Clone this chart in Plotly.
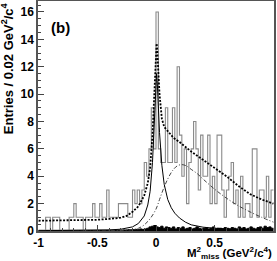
import plotly.graph_objects as go

# ---- histogram (bin width 0.02 GeV^2/c^4, 100 bins from -1 to 1) ----
BIN_LO = -1.0
BIN_W = 0.02
entries = [
    0, 0, 0, 1, 1, 0, 1, 1, 1, 0,
    0, 0, 0, 1, 1, 2, 1, 1, 1, 0,
    1, 1, 1, 2, 1, 1, 2, 1, 1, 3,
    1, 1, 1, 1, 2, 2, 2, 2, 1, 1,
    3, 2, 3, 2, 3, 5, 4, 6, 9, 6,
    16, 6, 5, 5, 9, 5, 5, 9, 5, 12,
    7, 4, 6, 2, 5, 6, 8, 6, 3, 7,
    4, 4, 7, 2, 4, 2, 7, 7, 3, 1,
    3, 4, 5, 2, 3, 1, 4, 1, 2, 2,
    1, 6, 6, 1, 3, 3, 1, 4, 1, 3,
]
# small black component at the bottom
bkg_small = [
    0.05, 0.05, 0.05, 0.05, 0.05, 0.05, 0.05, 0.05, 0.05, 0.05,
    0.05, 0.05, 0.05, 0.05, 0.05, 0.05, 0.05, 0.05, 0.05, 0.05,
    0.05, 0.05, 0.05, 0.05, 0.05, 0.05, 0.05, 0.05, 0.05, 0.05,
    0.05, 0.05, 0.05, 0.05, 0.05, 0.05, 0.08, 0.08, 0.1, 0.1,
    0.1, 0.12, 0.1, 0.15, 0.12, 0.15, 0.2, 0.3, 0.35, 0.4,
    0.3, 0.25, 0.35, 0.2, 0.3, 0.25, 0.2, 0.3, 0.15, 0.25,
    0.2, 0.3, 0.15, 0.2, 0.25, 0.15, 0.2, 0.3, 0.2, 0.15,
    0.2, 0.25, 0.15, 0.2, 0.3, 0.15, 0.2, 0.2, 0.15, 0.25,
    0.2, 0.15, 0.25, 0.2, 0.15, 0.3, 0.2, 0.25, 0.15, 0.2,
    0.3, 0.2, 0.15, 0.25, 0.3, 0.2, 0.35, 0.25, 0.3, 0.2,
]

# ---- fitted curves ----
sig_x = [-1, -0.6, -0.4, -0.3, -0.2, -0.15, -0.1, -0.07, -0.05, -0.03, -0.02, -0.01,
         0, 0.005, 0.01, 0.02, 0.03, 0.05, 0.07, 0.1, 0.13, 0.16, 0.2, 0.25, 0.3,
         0.4, 0.5, 0.7, 1.0]
sig_y = [0.02, 0.05, 0.08, 0.13, 0.3, 0.55, 1.1, 1.9, 2.9, 5.0, 7.0, 9.5,
         11.3, 11.5, 11.0, 9.0, 7.2, 4.8, 3.4, 2.3, 1.7, 1.3, 0.95, 0.65, 0.45,
         0.28, 0.2, 0.12, 0.08]

bump_x = [-1, -0.5, -0.3, -0.2, -0.15, -0.1, -0.05, 0, 0.03, 0.06, 0.1, 0.14, 0.18,
          0.22, 0.26, 0.3, 0.35, 0.4, 0.5, 0.6, 0.7, 0.8, 0.9, 1.0]
bump_y = [0.02, 0.03, 0.05, 0.1, 0.2, 0.45, 0.9, 1.6, 2.3, 3.0, 3.8, 4.4, 4.75,
          4.85, 4.75, 4.5, 4.2, 3.8, 3.05, 2.4, 1.85, 1.4, 1.0, 0.65]

tot_x = [-1, -0.8, -0.6, -0.5, -0.4, -0.3, -0.25, -0.2, -0.15, -0.1, -0.07, -0.05,
         -0.03, -0.02, -0.01, 0, 0.005, 0.01, 0.02, 0.03, 0.05, 0.07, 0.1, 0.15,
         0.2, 0.3, 0.4, 0.5, 0.6, 0.7, 0.8, 0.9, 1.0]
tot_y = [0.75, 0.77, 0.8, 0.82, 0.88, 0.97, 1.1, 1.4, 1.8, 2.6, 3.5, 4.6,
         7.0, 9.0, 11.5, 13.5, 13.7, 13.3, 11.5, 10.0, 8.2, 7.6, 7.3, 6.8,
         6.5, 5.8, 5.2, 4.6, 4.0, 3.3, 2.7, 2.3, 2.0]

x_ticks = [-1, -0.5, 0, 0.5, 1]
x_tick_labels = ["-1", "-0.5", "0", "0.5", "1"]
y_ticks = [0, 2, 4, 6, 8, 10, 12, 14, 16]

# step x positions: left bin edges plus final right edge
edges = [BIN_LO + i * BIN_W for i in range(len(entries) + 1)]
hist_y = entries + [entries[-1]]
small_y = bkg_small + [bkg_small[-1]]

FONT = "Liberation Sans"
fig = go.Figure()
fig.add_trace(go.Scatter(x=edges, y=small_y, mode="lines", line_shape="hv",
                         line=dict(color="black", width=1), fill="tozeroy",
                         fillcolor="black", hoverinfo="skip"))
fig.add_trace(go.Scatter(x=edges, y=hist_y, mode="lines", line_shape="hv",
                         line=dict(color="#8a8a8a", width=1.1), hoverinfo="skip"))
fig.add_trace(go.Scatter(x=bump_x, y=bump_y, mode="lines", line_shape="spline",
                         line=dict(color="#444", width=1, dash="4px,2px,1px,2px")))
fig.add_trace(go.Scatter(x=sig_x, y=sig_y, mode="lines",
                         line=dict(color="black", width=1)))
fig.add_trace(go.Scatter(x=tot_x, y=tot_y, mode="lines",
                         line=dict(color="black", width=1.8, dash="2px,1.5px")))

fig.update_layout(
    width=277, height=261,
    margin=dict(l=38, r=3, t=1, b=30),
    plot_bgcolor="white", paper_bgcolor="white",
    showlegend=False,
    font=dict(family=FONT, color="black"),
)
fig.update_xaxes(range=[-1.005, 1.005], tickvals=x_ticks, ticktext=x_tick_labels,
                 ticks="inside", ticklen=6, tickcolor="#444", showgrid=False,
                 zeroline=False, showline=True, mirror=True, linecolor="#555",
                 linewidth=1.5, automargin=False,
                 tickfont=dict(family=FONT, size=12, weight="bold"),
                 minor=dict(dtick=0.1, ticks="inside", ticklen=3, tickcolor="#444"))
fig.update_yaxes(range=[0, 16.8], tickvals=y_ticks,
                 ticks="inside", ticklen=6, tickcolor="#444", showgrid=False,
                 zeroline=False, showline=True, mirror=True, linecolor="#555",
                 linewidth=1.5, automargin=False,
                 tickfont=dict(family=FONT, size=12, weight="bold"),
                 minor=dict(dtick=0.5, ticks="inside", ticklen=3, tickcolor="#444"))

fig.add_annotation(text="<b>Entries / 0.02 GeV<sup>2</sup>/c<sup>4</sup></b>",
                   xref="paper", yref="paper", x=-0.13, y=1.005, xanchor="center",
                   yanchor="top", textangle=-90, showarrow=False,
                   font=dict(family=FONT, size=13, color="black"))
fig.add_annotation(text="<b>M<sup>2</sup><sub>miss</sub> (GeV<sup>2</sup>/c<sup>4</sup>)</b>",
                   xref="paper", yref="paper", x=1.0, y=-0.097, xanchor="right",
                   yanchor="middle", showarrow=False,
                   font=dict(family=FONT, size=11.5, color="black"))
fig.add_annotation(text="<b>(b)</b>", xref="paper", yref="paper", x=0.095, y=0.885,
                   xanchor="center", yanchor="middle", showarrow=False,
                   font=dict(family=FONT, size=15, color="black"))

fig.write_html("out.html", config={"displayModeBar": False},
               post_script="document.body.style.margin='0';")
